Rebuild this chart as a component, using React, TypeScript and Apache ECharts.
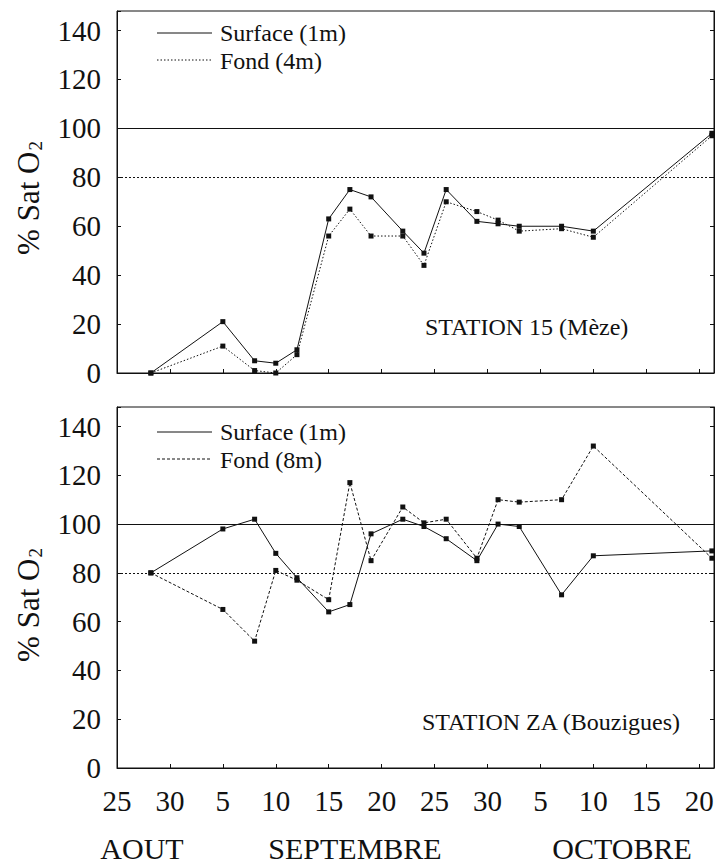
import React, { useEffect, useRef } from "react";
import * as echarts from "echarts";

// x = day index: 0 = 25 Aug, ticks every 5 (labels below)
const days = [3.2, 10, 13, 15, 17, 20, 22, 24, 27, 29, 31.1, 34, 36, 38, 42, 45, 56.2];
const xTickLabels = ["25", "30", "5", "10", "15", "20", "25", "30", "5", "10", "15", "20"];
const yTicks = [0, 20, 40, 60, 80, 100, 120, 140];

const st15Surface = [0, 21, 5, 4, 9.5, 63, 75, 72, 58, 49, 75, 62, 61, 60, 60, 58, 98];
const st15Fond = [0, 11, 1, 0, 7.5, 56, 67, 56, 56, 44, 70, 66, 62.5, 58, 59, 55.5, 97];

const staZASurface = [80, 98, 102, 88, 78, 64, 67, 96, 102, 99, 94, 85, 100, 99, 71, 87, 89];
const staZAFond = [80, 65, 52, 81, 77, 69, 117, 85, 107, 100.5, 102, 86, 110, 109, 110, 132, 86];

const months = [
  { label: "AOUT", x: 142 },
  { label: "SEPTEMBRE", x: 355 },
  { label: "OCTOBRE", x: 622 },
];

const FONT = "Liberation Serif";
const INK = "#111";

function pairs(xs: number[], ys: number[]) {
  return xs.map((x, i) => [x, ys[i]]);
}

export default function App() {
  const ref = useRef<HTMLDivElement>(null);
  useEffect(() => {
    if (!ref.current) return;
    const chart = echarts.init(ref.current, null, { renderer: "svg" });

    const grids = [
      { left: 117, top: 11, width: 597, height: 362 },
      { left: 117, top: 407, width: 597, height: 361 },
    ];

    const xAxisFor = (gridIndex: number, showLabels: boolean) => ({
      type: "value",
      gridIndex,
      min: 0,
      max: 56.4,
      interval: 5,
      axisLine: { show: true, lineStyle: { color: INK, width: 1 } },
      axisTick: { show: true, inside: true, length: 4, lineStyle: { color: INK } },
      splitLine: { show: false },
      axisLabel: {
        show: showLabels,
        margin: 18,
        color: INK,
        fontFamily: FONT,
        fontSize: 29,
        showMaxLabel: false,
        formatter: (v: number) => {
          const i = Math.round(v / 5);
          return Math.abs(v - i * 5) < 1e-6 && i < xTickLabels.length ? xTickLabels[i] : "";
        },
      },
    });

    const yAxisFor = (gridIndex: number, position: "left" | "right", showLabels: boolean) => ({
      type: "value",
      gridIndex,
      position,
      min: 0,
      max: 148,
      interval: 20,
      axisLine: { show: true, lineStyle: { color: INK, width: 1 } },
      axisTick: { show: true, inside: true, length: 4, lineStyle: { color: INK } },
      splitLine: { show: false },
      axisLabel: {
        show: showLabels,
        margin: 16,
        color: INK,
        fontFamily: FONT,
        fontSize: 29,
        formatter: (v: number) => (yTicks.indexOf(v) >= 0 ? String(v) : ""),
      },
    });

    const refLines = {
      silent: true,
      symbol: "none",
      label: { show: false },
      data: [
        { yAxis: 100, lineStyle: { type: "solid", color: INK, width: 1 } },
        { yAxis: 80, lineStyle: { type: [2, 2], color: INK, width: 1.2 } },
      ],
    };

    const lineSeries = (
      name: string,
      data: number[][],
      xi: number,
      yi: number,
      dash: any,
      withRef: boolean
    ) => ({
      type: "line",
      name,
      xAxisIndex: xi,
      yAxisIndex: yi,
      data,
      symbol: "rect",
      symbolSize: 5,
      itemStyle: { color: INK },
      lineStyle: { color: INK, width: 1, type: dash },
      markLine: withRef ? refLines : undefined,
      z: 3,
    });

    const txt = (text: string, x: number, y: number, size: number, extra: any = {}) => ({
      type: "text",
      x,
      y,
      ...extra.el,
      style: {
        text,
        fontFamily: FONT,
        fontSize: size,
        fill: INK,
        verticalAlign: "middle",
        ...extra.style,
      },
    });

    const legendItems = (top: number, fondLabel: string, fondDash: number[]) => [
      {
        type: "line",
        shape: { x1: 157, y1: top, x2: 212, y2: top },
        style: { stroke: INK, lineWidth: 1 },
      },
      txt("Surface (1m)", 220, top, 24),
      {
        type: "line",
        shape: { x1: 157, y1: top + 27, x2: 212, y2: top + 27 },
        style: { stroke: INK, lineWidth: 1, lineDash: fondDash },
      },
      txt(fondLabel, 220, top + 28, 24),
    ];

    const yTitle = (cy: number) =>
      txt("% Sat O{s|2}", 28, cy, 31, {
        el: { rotation: Math.PI / 2 },
        style: {
          align: "center",
          rich: {
            s: { fontSize: 19, fontFamily: FONT, fill: INK, padding: [14, 0, 0, 1] },
          },
        },
      });

    chart.setOption({
      animation: false,
      backgroundColor: "#fff",
      textStyle: { fontFamily: FONT, color: INK },
      grid: grids.map((g) => ({ ...g, show: true, borderColor: INK, borderWidth: 1, containLabel: false })),
      xAxis: [xAxisFor(0, false), xAxisFor(1, true)],
      yAxis: [
        yAxisFor(0, "left", true),
        yAxisFor(1, "left", true),
        yAxisFor(0, "right", false),
        yAxisFor(1, "right", false),
      ],
      series: [
        lineSeries("Surface (1m)", pairs(days, st15Surface), 0, 0, "solid", true),
        lineSeries("Fond (4m)", pairs(days, st15Fond), 0, 0, [1.5, 2], false),
        lineSeries("Surface (1m)", pairs(days, staZASurface), 1, 1, "solid", true),
        lineSeries("Fond (8m)", pairs(days, staZAFond), 1, 1, [3, 2], false),
      ],
      graphic: [
        ...legendItems(33, "Fond (4m)", [1.5, 2]),
        ...legendItems(432, "Fond (8m)", [3, 2]),
        txt("STATION 15 (Mèze)", 425, 327, 24),
        txt("STATION ZA (Bouzigues)", 422, 722, 24),
        yTitle(198),
        yTitle(605),
        ...months.map((m) => txt(m.label, m.x, 848, 30, { style: { align: "center" } })),
      ],
    });
    return () => chart.dispose();
  }, []);

  return (
    <div
      ref={ref}
      style={{
        position: "fixed",
        left: 0,
        top: 0,
        width: 717,
        height: 866,
        background: "#fff",
        fontFamily: "Liberation Serif, serif",
      }}
    />
  );
}
